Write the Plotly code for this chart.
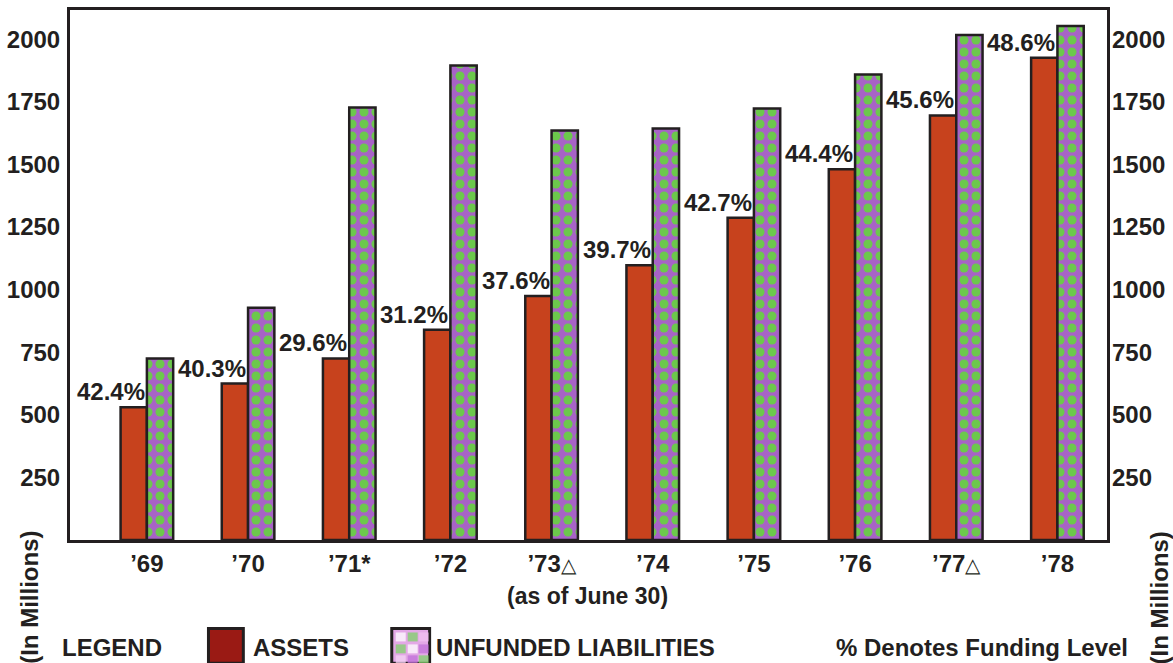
import plotly.graph_objects as go

# Fiscal years (as of June 30)
years = ["’69", "’70", "’71*", "’72", "’73△", "’74", "’75", "’76", "’77△", "’78"]
assets = [530, 625, 725, 840, 975, 1097, 1287, 1481, 1696, 1926]
unfunded = [725, 928, 1728, 1895, 1636, 1644, 1724, 1859, 2017, 2053]
funding_pct = ["42.4%", "40.3%", "29.6%", "31.2%", "37.6%", "39.7%", "42.7%", "44.4%", "45.6%", "48.6%"]
y_ticks = [250, 500, 750, 1000, 1250, 1500, 1750, 2000]

INK = "#231f20"
FONT = "Liberation Sans"
W, H = 1173, 663
L, R, T, B = 66, 66, 7, 123
PW, PH = W - L - R, H - T - B


def px_x(x):
    return (x - L) / PW


def px_y(y):
    return (H - B - y) / PH


def year_label(s):
    # smaller, lighter triangle marker after the year
    s = s.replace("△", "<span style='font-size:20px;font-weight:normal'>△</span>")
    return f"<b>{s}</b>"


fig = go.Figure()
fig.add_trace(go.Bar(
    x=years, y=assets, name="ASSETS",
    marker=dict(color="#c7421d", line=dict(color=INK, width=2.5)),
))
fig.add_trace(go.Bar(
    x=years, y=unfunded, name="UNFUNDED LIABILITIES",
    marker=dict(
        color="#a964cc",
        line=dict(color=INK, width=2.5),
        pattern=dict(shape=".", bgcolor="#a763c6", fgcolor="#6cc84c", fgopacity=1,
                     size=12, solidity=0.45, fillmode="replace"),
    ),
))
# invisible trace to carry the mirrored right-hand axis
fig.add_trace(go.Scatter(x=years, y=assets, yaxis="y2", mode="markers",
                         marker=dict(opacity=0), hoverinfo="skip", showlegend=False))

annotations = []
for yr, a, pct in zip(years, assets, funding_pct):
    annotations.append(dict(
        x=yr, y=a, xref="x", yref="y", text=f"<b>{pct}</b>", showarrow=False,
        xanchor="right", yanchor="bottom", xshift=0, yshift=0,
        font=dict(family=FONT, size=24, color=INK),
    ))

bold = dict(family=FONT, size=24, color=INK)
annotations += [
    dict(x=px_x(585), y=px_y(596), xref="paper", yref="paper", text="<b>(as of June 30)</b>",
         showarrow=False, xanchor="center", yanchor="middle", font=dict(family=FONT, size=23, color=INK)),
    dict(x=px_x(56), y=px_y(648), xref="paper", yref="paper", text="<b>LEGEND</b>",
         showarrow=False, xanchor="left", yanchor="middle", font=bold),
    dict(x=px_x(248), y=px_y(648), xref="paper", yref="paper", text="<b>ASSETS</b>",
         showarrow=False, xanchor="left", yanchor="middle", font=bold),
    dict(x=px_x(431), y=px_y(648), xref="paper", yref="paper", text="<b>UNFUNDED LIABILITIES</b>",
         showarrow=False, xanchor="left", yanchor="middle", font=bold),
    dict(x=px_x(1130), y=px_y(648), xref="paper", yref="paper", text="<b>% Denotes Funding Level</b>",
         showarrow=False, xanchor="right", yanchor="middle", font=bold),
    dict(x=px_x(26), y=px_y(598), xref="paper", yref="paper", text="<b>(In Millions)</b>",
         showarrow=False, textangle=-90, xanchor="center", yanchor="middle", font=bold),
    dict(x=px_x(1160), y=px_y(598), xref="paper", yref="paper", text="<b>(In Millions)</b>",
         showarrow=False, textangle=-90, xanchor="center", yanchor="middle", font=bold),
]

shapes = [
    # assets legend swatch
    dict(type="rect", xref="paper", yref="paper",
         x0=px_x(205), x1=px_x(240), y0=px_y(664), y1=px_y(629),
         fillcolor="#9a1a14", line=dict(color=INK, width=3)),
    # unfunded liabilities legend swatch
    dict(type="rect", xref="paper", yref="paper",
         x0=px_x(389), x1=px_x(427), y0=px_y(664), y1=px_y(629),
         fillcolor="#e3a8e6", line=dict(color=INK, width=3)),
]
# checkered fill inside the liabilities swatch
cells = [(393, 633, "#ffffff"), (405, 633, "#7fd36a"), (416, 633, "#f0c0f0"),
         (393, 645, "#7fd36a"), (405, 645, "#ffffff"), (416, 645, "#c070d8"),
         (393, 656, "#f4d4f4"), (405, 656, "#c070d8"), (416, 656, "#7fd36a")]
for cx, cy, col in cells:
    shapes.append(dict(type="rect", xref="paper", yref="paper",
                       x0=px_x(cx), x1=px_x(cx + 10), y0=px_y(cy + 9), y1=px_y(cy),
                       fillcolor=col, opacity=0.75, line=dict(width=0)))

tick_font = dict(family=FONT, size=24, color=INK)
fig.update_layout(
    width=W, height=H,
    margin=dict(l=L, r=R, t=T, b=B),
    paper_bgcolor="white", plot_bgcolor="white",
    barmode="group", bargap=0.48, bargroupgap=0,
    showlegend=False,
    font=dict(family=FONT, color=INK),
    xaxis=dict(
        type="category", range=[-0.76, 9.49],
        tickvals=years, ticktext=[year_label(s) for s in years],
        showline=True, linecolor=INK, linewidth=3, mirror=True,
        showgrid=False, ticks="", tickfont=tick_font, ticklabelstandoff=0,
    ),
    yaxis=dict(
        range=[0, 2117], tickvals=y_ticks, ticktext=[f"<b>{v}</b>" for v in y_ticks],
        showline=True, linecolor=INK, linewidth=3, mirror=True,
        showgrid=False, zeroline=False, ticks="", tickfont=tick_font, ticklabelstandoff=2,
    ),
    yaxis2=dict(
        range=[0, 2117], tickvals=y_ticks, ticktext=[f"<b>{v}</b>" for v in y_ticks],
        overlaying="y", side="right", showline=False, showgrid=False, zeroline=False,
        ticks="", tickfont=tick_font, ticklabelstandoff=4,
    ),
    annotations=annotations,
    shapes=shapes,
)

fig.write_html("out.html")
